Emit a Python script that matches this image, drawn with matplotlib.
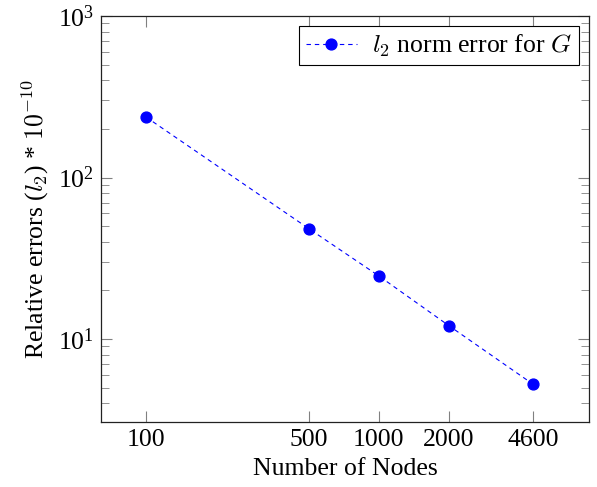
import matplotlib
matplotlib.use("Agg")
import matplotlib.pyplot as plt
from matplotlib.ticker import FixedLocator, FixedFormatter, LogLocator, NullFormatter

nodes = [100, 500, 1000, 2000, 4600]
errors = [237, 48.3, 24.6, 12.1, 5.25]
xtick_labels = ["100", "500", "1000", "2000", "4600"]

plt.rcParams['font.family'] = ['Liberation Serif', 'DejaVu Serif']
plt.rcParams['mathtext.fontset'] = 'cm'

fig = plt.figure(figsize=(5.97, 4.87), dpi=100)
ax = fig.add_axes([101/597, 1-421.7/487, (589-101)/597, (421.7-16)/487])

ax.plot(nodes, errors, color='#0000ff', linestyle=(0, (4, 3.5)), linewidth=0.8,
        marker='o', markersize=7.8, label=r'$l_2$ norm error for $G$')

ax.set_xscale('log')
ax.set_yscale('log')
ax.set_xlim(64.1, 7990)
ax.set_ylim(3.08, 1000)

ax.xaxis.set_major_locator(FixedLocator(nodes))
ax.xaxis.set_major_formatter(FixedFormatter(xtick_labels))
ax.xaxis.set_minor_locator(FixedLocator([]))
ax.yaxis.set_major_locator(LogLocator(base=10, numticks=10))
ax.yaxis.set_minor_locator(LogLocator(base=10, subs=range(2, 10), numticks=10))
ax.yaxis.set_minor_formatter(NullFormatter())

ax.tick_params(which='both', direction='in', top=True, right=True, color='#808080', labelsize=18.5)
ax.tick_params(which='major', length=8, width=0.8, pad=5)
ax.tick_params(which='minor', length=5.5, width=0.6)
for s in ax.spines.values():
    s.set_linewidth(0.9)
    s.set_color('#222222')

ax.set_xlabel('Number of Nodes', fontsize=18.5, labelpad=5)
ax.set_ylabel(r'Relative errors ($l_2$) * $10^{-10}$', fontsize=18.5, labelpad=5)

leg = ax.legend(loc='upper right', fontsize=18.5, fancybox=False, edgecolor='black',
                framealpha=1, borderaxespad=0.4, handlelength=2.0, handletextpad=0.6,
                borderpad=0.25)
leg.get_frame().set_linewidth(0.8)

fig.savefig('out.png', dpi=100)
